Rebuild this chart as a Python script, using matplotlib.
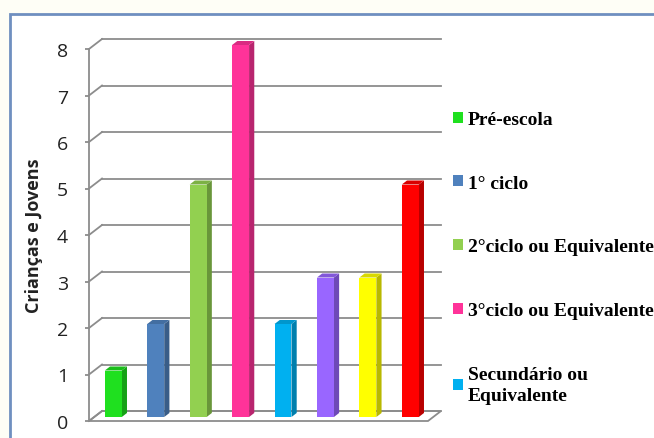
import matplotlib
matplotlib.use('Agg')
import matplotlib.pyplot as plt
from matplotlib.patches import Polygon, Rectangle
from matplotlib.colors import to_rgb

# data
values = [1, 2, 5, 8, 2, 3, 3, 5]
colors = ['#1fe01f', '#4f81bd', '#92d050', '#ff3399',
          '#00b0f0', '#9966ff', '#ffff00', '#ff0000']
labels = ['Pré-escola', '1° ciclo', '2°ciclo ou Equivalente',
          '3°ciclo ou Equivalente', 'Secundário ou\nEquivalente']
yticks = list(range(9))
ylabel = 'Crianças e Jovens'

W, H = 654, 439
fig = plt.figure(figsize=(W / 100, H / 100), dpi=100)
fig.patch.set_facecolor('#fefef6')

# outer chart frame (runs off the right and bottom edges)
fig.patches.append(Rectangle((10 / W, -0.1), 1.2, 1.1 - 15 / H,
                             transform=fig.transFigure, facecolor='white',
                             edgecolor='#6f8fc0', lw=2, zorder=-5))

ax = fig.add_axes([89 / W, 17 / H, 339 / W, 372 / H])
ax.set_facecolor('none')
xmin, xmax = -0.45, 7.54
ax.set_xlim(xmin, xmax)
ax.set_ylim(0, 8)

# 3d depth, in data units per full depth
ddx = 13 / 42.4
ddy = 10 / 46.5
grid_c = '#8c8c8c'


def shift(x, v, d):
    return (x + d * ddx, v + d * ddy)


# floor
ax.add_patch(Polygon([shift(xmin, 0, 0), shift(xmax, 0, 0),
                      shift(xmax, 0, 1), shift(xmin, 0, 1)], closed=True,
                     facecolor='white', edgecolor=grid_c, lw=1.3,
                     clip_on=False, zorder=1))
# back wall gridlines and left wall diagonals
for v in yticks:
    x0, y0 = shift(xmin, v, 1)
    x1, y1 = shift(xmax, v, 1)
    ax.plot([x0, x1], [y0, y1], color=grid_c, lw=1.3, clip_on=False, zorder=1)
    fx, fy = shift(xmin, v, 0)
    ax.plot([fx, x0], [fy, y0], color=grid_c, lw=1.3, clip_on=False, zorder=1)


def shade(c, f):
    r, g, b = to_rgb(c)
    return (r * f, g * f, b * f)


# bars: front face at depth d0, back at d1
d0, d1 = 0.4, 0.8
bw = 0.4
xs = list(range(len(values)))
fronts = []
for x, v, c in zip(xs, values, colors):
    left, right = x - bw / 2, x + bw / 2
    side = [shift(right, 0, d0), shift(right, 0, d1),
            shift(right, v, d1), shift(right, v, d0)]
    top = [shift(left, v, d0), shift(right, v, d0),
           shift(right, v, d1), shift(left, v, d1)]
    ax.add_patch(Polygon(side, closed=True, facecolor=shade(c, 0.72),
                         edgecolor='none', clip_on=False, zorder=2))
    ax.add_patch(Polygon(top, closed=True, facecolor=shade(c, 0.85),
                         edgecolor='none', clip_on=False, zorder=2))
    fx, fy = shift(left, 0, d0)
    p = Rectangle((fx, fy), bw, v, facecolor=c, edgecolor='none',
                  clip_on=False, zorder=3)
    ax.add_patch(p)
    fronts.append(p)

for s in ['top', 'right', 'bottom']:
    ax.spines[s].set_visible(False)
ax.spines['left'].set_color(grid_c)
ax.spines['left'].set_linewidth(1.3)
ax.set_xticks([])
ax.set_yticks(yticks)
ax.tick_params(axis='y', length=3, width=1.3, color=grid_c, pad=12,
               labelsize=14, labelcolor='#222222')
for t in ax.get_yticklabels():
    t.set_fontfamily('Open Sans')

ax.set_ylabel(ylabel, fontsize=13, fontweight='bold', family='Open Sans',
              color='#222222')
ax.yaxis.set_label_coords(-0.136, 0.5)

leg = fig.legend(fronts[:5], labels, loc='upper left',
                 bbox_to_anchor=(453 / W, 1 - 112 / H), frameon=False,
                 borderpad=0, borderaxespad=0, handlelength=0.5,
                 handleheight=0.5, handletextpad=0.25, labelspacing=2.4,
                 prop={'family': 'Liberation Serif', 'weight': 'bold',
                       'size': 14})
leg.get_texts()[-1].set_linespacing(1.35)

fig.savefig('out.png', dpi=100, facecolor=fig.get_facecolor())
